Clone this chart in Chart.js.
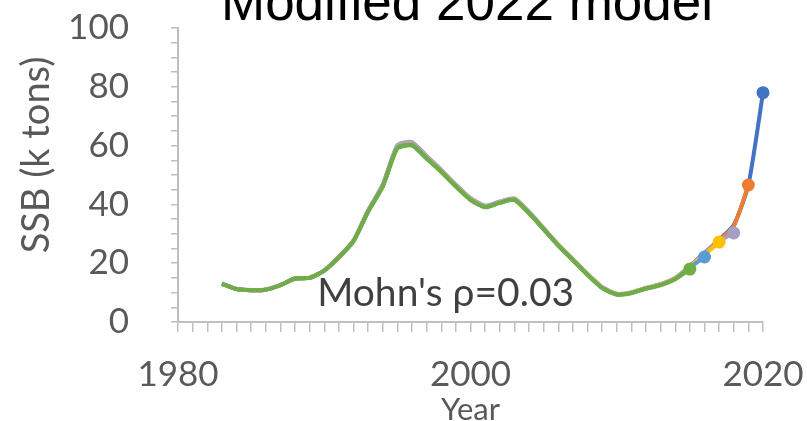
<!DOCTYPE html>
<html>
<head>
<meta charset="utf-8">
<script src="https://cdn.jsdelivr.net/npm/chart.js@4/dist/chart.umd.min.js"></script>
<style>html,body{margin:0;padding:0;background:#fff;overflow:hidden}canvas{display:block}</style>
</head>
<body>
<canvas id="c" width="807" height="421"></canvas>
<script>
// ---- data ----
const years = [1983,1984,1985,1986,1987,1988,1989,1990,1991,1992,1993,1994,1995,1996,1997,1998,1999,2000,2001,2002,2003,2004,2005,2006,2007,2008,2009,2010,2011,2012,2013,2014,2015,2016,2017,2018,2019,2020];
const peel2015 = [13.0,11.2,10.8,11.0,12.5,14.8,15.0,17.5,22.0,27.5,37.5,46.0,59.0,60.0,55.5,51.0,46.0,41.5,39.0,40.5,41.5,37.0,31.5,26.0,21.0,16.0,11.5,9.3,9.8,11.3,12.5,14.5,18.0];
const peel2016 = [13.0,11.2,10.8,11.0,12.5,14.8,15.0,17.5,22.0,27.5,37.6,46.2,59.3,60.3,55.8,51.2,46.2,41.6,39.1,40.6,41.6,37.1,31.6,26.1,21.1,16.1,11.6,9.4,9.9,11.4,12.6,14.7,18.5,22.1];
const peel2017 = [13.0,11.2,10.8,11.0,12.5,14.8,15.0,17.5,22.0,27.6,37.7,46.4,59.5,60.5,56.0,51.4,46.4,41.8,39.2,40.7,41.8,37.2,31.7,26.2,21.2,16.2,11.7,9.5,10.0,11.5,12.8,14.9,18.8,22.8,27.2];
const peel2018 = [13.1,11.3,10.9,11.1,12.6,14.9,15.1,17.6,22.2,27.8,38.0,46.8,60.2,61.2,56.5,51.8,46.8,42.2,39.6,41.0,42.1,37.5,32.0,26.4,21.4,16.4,11.9,9.6,10.1,11.6,12.9,15.0,19.0,23.5,27.5,30.3];
const peel2019 = [13.0,11.2,10.8,11.0,12.5,14.8,15.0,17.5,22.1,27.6,37.8,46.4,59.6,60.6,56.0,51.4,46.4,41.8,39.2,40.8,41.8,37.2,31.7,26.2,21.2,16.2,11.7,9.5,10.0,11.5,12.8,14.9,19.0,23.5,27.8,32.5,46.6];
const peel2020 = [13.0,11.2,10.8,11.0,12.5,14.8,15.0,17.5,22.1,27.6,37.8,46.4,59.6,60.6,56.0,51.4,46.4,41.8,39.2,40.8,41.8,37.2,31.7,26.2,21.2,16.2,11.7,9.5,10.0,11.5,12.8,14.9,19.0,23.5,28.0,33.0,46.6,78.0];
const peelNames = ['2015','2016','2017','2018','2019','2020'];
const yTicks = [0,20,40,60,80,100];
const xTicks = [1980,2000,2020];
const titleText = 'Modified 2022 model';
const yTitle = 'SSB (k tons)';
const xTitle = 'Year';
const noteText = "Mohn's \u03C1=0.03";
const noteAt = {x: 1998.3, y: 5.4};

// ---- styles ----
const peelColors = ['#70AD47','#5B9BD5','#FFC000','#A5A0C2','#ED7D31','#4472C4'];
const tickColor = '#595959';
const axisColor = '#BFBFBF';

const peels = [peel2015, peel2016, peel2017, peel2018, peel2019, peel2020];
const datasets = peels.map((vals, i) => ({
  label: peelNames[i],
  data: vals.map((v, j) => ({x: years[j], y: v})),
  borderColor: peelColors[i],
  backgroundColor: peelColors[i],
  borderWidth: 4,
  tension: 0.2,
  clip: false,
  pointRadius: ctx => ctx.dataIndex === vals.length - 1 ? 6.5 : 0,
  pointHoverRadius: 0,
  pointBorderWidth: 0,
  fill: false
}));

const overlay = {
  id: 'overlay',
  afterDraw(chart) {
    const {ctx, scales: {x, y}} = chart;
    ctx.save();
    ctx.fillStyle = '#000';
    ctx.font = '53px "Liberation Sans", Arial, sans-serif';
    ctx.textAlign = 'center';
    ctx.textBaseline = 'alphabetic';
    ctx.fillText(titleText, 467, 20);

    ctx.fillStyle = '#404040';
    ctx.font = '39px Lato, sans-serif';
    ctx.fillText(noteText, x.getPixelForValue(noteAt.x), y.getPixelForValue(noteAt.y));

    ctx.translate(37, 155);
    ctx.rotate(-Math.PI / 2);
    ctx.fillStyle = tickColor;
    ctx.font = '38px Lato, sans-serif';
    ctx.textBaseline = 'middle';
    ctx.fillText(yTitle, 0, 0);
    ctx.restore();
  }
};

new Chart(document.getElementById('c'), {
  type: 'line',
  data: {datasets},
  plugins: [overlay],
  options: {
    responsive: false,
    animation: false,
    events: [],
    layout: {padding: {top: 28, right: 44, left: 0, bottom: 0}},
    plugins: {legend: {display: false}, tooltip: {enabled: false}, title: {display: false}},
    scales: {
      x: {
        type: 'linear',
        min: 1980, max: 2020,
        afterFit: s => { s.height = 99; s.paddingLeft = 0; s.paddingRight = 0; },
        afterBuildTicks: s => { s.ticks = []; for (let v = 1980; v <= 2020; v++) s.ticks.push({value: v}); },
        ticks: {
          autoSkip: false, maxRotation: 0, minRotation: 0,
          color: tickColor, font: {family: 'Lato', size: 35}, padding: 22,
          callback: v => xTicks.includes(v) ? String(v) : ''
        },
        grid: {drawOnChartArea: false, color: axisColor, tickLength: 10, lineWidth: 1.5},
        border: {color: axisColor, width: 2},
        title: {display: true, text: xTitle, color: tickColor, font: {family: 'Lato', size: 31}, padding: {top: 0, bottom: -8}}
      },
      y: {
        type: 'linear',
        min: 0, max: 100,
        afterFit: s => { s.width = 178; s.paddingTop = 0; s.paddingBottom = 0; },
        afterBuildTicks: s => { s.ticks = []; for (let v = 0; v <= 100; v += 5) s.ticks.push({value: v}); },
        ticks: {
          autoSkip: false,
          color: tickColor, font: {family: 'Lato', size: 35}, padding: 42,
          callback: v => yTicks.includes(v) ? String(v) : ''
        },
        grid: {drawOnChartArea: false, color: axisColor, tickLength: 7, lineWidth: 1.5},
        border: {color: axisColor, width: 2}
      }
    }
  }
});
</script>
</body>
</html>
